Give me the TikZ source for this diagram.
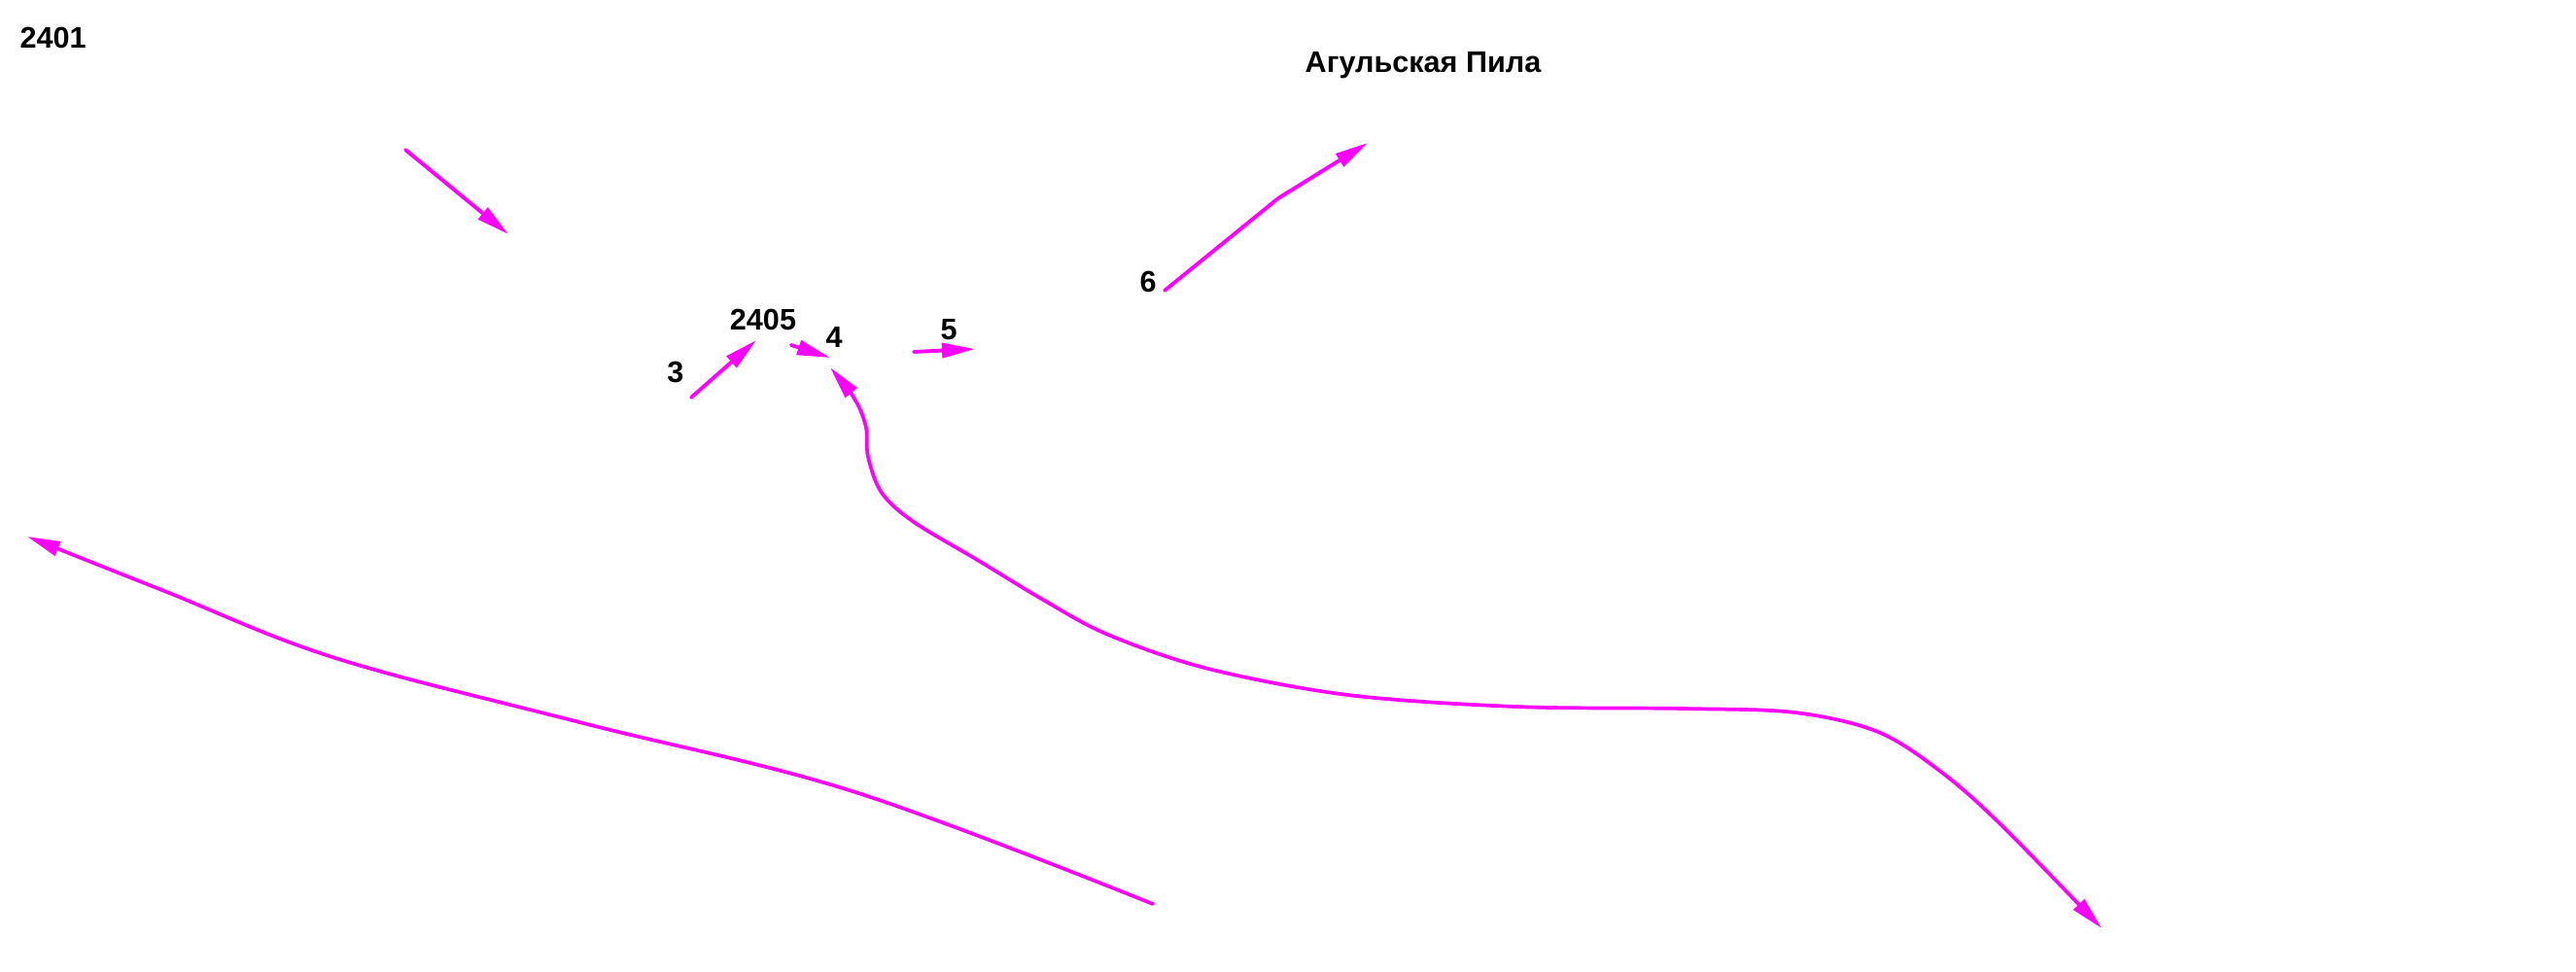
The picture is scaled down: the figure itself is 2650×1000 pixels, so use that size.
\documentclass[tikz,border=0pt]{standalone}
\usepackage{fontspec}
\setmainfont{Liberation Sans}
\usetikzlibrary{arrows.meta}
\begin{document}
\begin{tikzpicture}[x=0.01cm,y=-0.01cm,
  lbl/.style={font=\bfseries\fontsize{8.7}{10}\selectfont, inner sep=0pt, anchor=base},
  arr/.style={draw={rgb,255:red,255;green,0;blue,255}, line width=1.1pt, line cap=round, line join=round,
    -{Triangle[length=0.34cm,width=0.15cm]}},
  carr/.style={arr, line width=1.05pt}]
\useasboundingbox (0,0) rectangle (2650,1000);
% labels
\node[lbl, anchor=base west] (t2401) at (20,50) {2401};
\node[lbl] (title) at (1464,74) {Агульская Пила};
\node[lbl] (t2405) at (785,339) {2405};
\node[lbl] (t3) at (695,393) {3};
\node[lbl] (t4) at (858,357) {4};
\node[lbl] (t5) at (976,349) {5};
\node[lbl] (t6) at (1181,300) {6};
% coordinates
\coordinate (a1s) at (417,154); \coordinate (a1e) at (523,241);
\coordinate (a3s) at (711,409); \coordinate (a3e) at (778,350);
\coordinate (a4s) at (814,355); \coordinate (a4e) at (854,368);
\coordinate (a5s) at (940,362); \coordinate (a5e) at (1003,359);
\coordinate (a6s) at (1198,299); \coordinate (a6m) at (1315,204); \coordinate (a6e) at (1407,147);
% straight arrows
\draw[arr] (a1s) -- (a1e);
\draw[arr] (a3s) -- (a3e);
\draw[arr] (a4s) -- (a4e);
\draw[arr] (a5s) -- (a5e);
\draw[arr] (a6s) -- (a6m) -- (a6e);
% big curve to the right
\draw[carr, {Triangle[length=0.34cm,width=0.15cm]}-{Triangle[length=0.34cm,width=0.15cm]}]
  plot[smooth, tension=0.55] coordinates {(854,378) (880,412) (891,440) (893,470) (907,507) (940,537) (1007,577) (1073,617) (1140,653) (1243,688) (1387,715) (1559,727) (1731,729) (1846,733) (1932,753) (1998,795) (2060,850) (2162,955)};
% lower-left curve
\draw[carr] plot[smooth, tension=0.6] coordinates {(1186,930) (880,815) (600,744) (345,677) (169,608) (28,552)};
\end{tikzpicture}
\end{document}
